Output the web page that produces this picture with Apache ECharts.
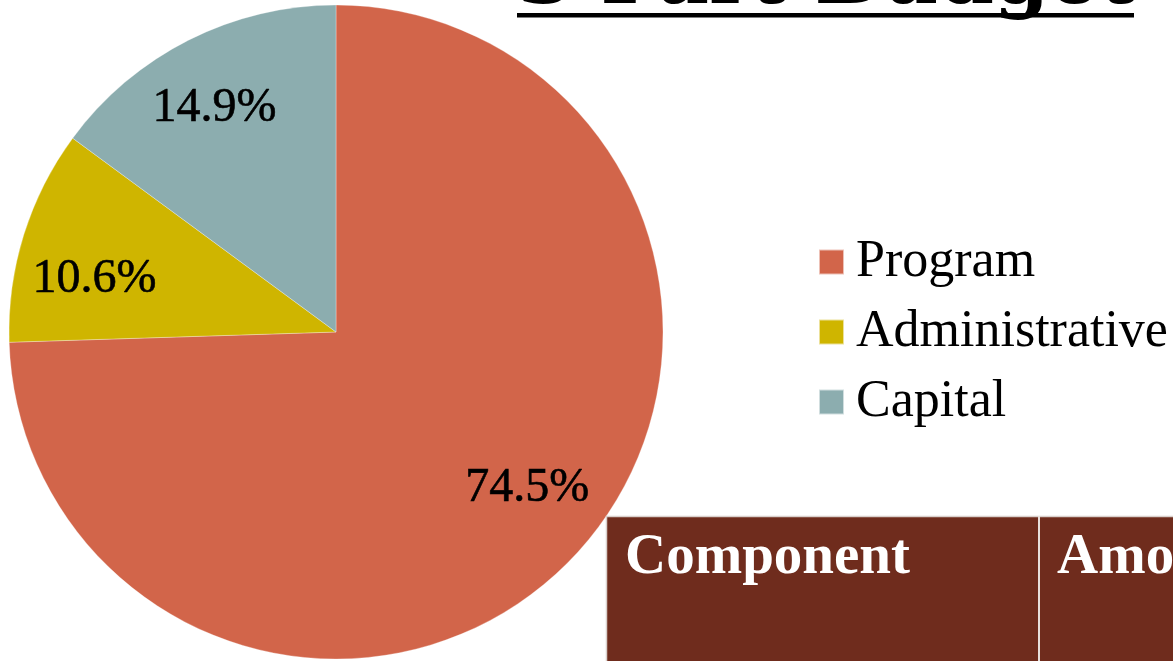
<!DOCTYPE html>
<html>
<head>
<meta charset="utf-8">
<script src="https://cdn.jsdelivr.net/npm/echarts@6/dist/echarts.min.js"></script>
<style>
html,body{margin:0;padding:0;background:#fff;}
#chart{width:1173px;height:661px;}
</style>
</head>
<body>
<div id="chart"></div>
<script>
var categories = ['Program', 'Administrative', 'Capital'];
var shares = [74.5, 10.6, 14.9];
var sliceColors = ['#D2654A', '#CFB500', '#8CADAF'];
var titleText = '3 Part Budget';
var tableHeaders = ['Component', 'Amount'];

var CX = 336, CY = 332, R = 327;
var labelNudge = [[6, -23], [5, 24], [-5, 7]];
var SERIF = '"Liberation Serif", "DejaVu Serif", serif';

var chart = echarts.init(document.getElementById('chart'), null, {renderer: 'canvas'});
var option = {
  animation: false,
  backgroundColor: '#ffffff',
  color: sliceColors,
  legend: {
    orient: 'vertical',
    left: 818,
    top: 236,
    padding: 0,
    itemWidth: 25,
    itemHeight: 25,
    itemGap: 18,
    icon: 'rect',
    selectedMode: false,
    textStyle: {
      fontFamily: SERIF,
      fontSize: 52,
      color: '#000',
      lineHeight: 52,
      padding: [0, 0, 0, 7]
    },
    data: categories
  },
  series: [{
    type: 'pie',
    center: [CX, CY],
    radius: [0, R],
    startAngle: 90,
    clockwise: true,
    avoidLabelOverlap: false,
    silent: true,
    itemStyle: {borderColor: 'rgba(255,255,255,0.6)', borderWidth: 0.5},
    label: {
      show: true,
      position: 'inside',
      formatter: function (p) { return p.value.toFixed(1) + '%'; },
      fontFamily: SERIF,
      fontSize: 48,
      color: '#000',
      textBorderColor: '#000',
      textBorderWidth: 0.6
    },
    labelLine: {show: false},
    labelLayout: function (p) {
      var cx = p.labelRect.x + p.labelRect.width / 2;
      var cy = p.labelRect.y + p.labelRect.height / 2;
      var k = 1.55;
      var n = labelNudge[p.dataIndex];
      return {x: CX + (cx - CX) * k + n[0], y: CY + (cy - CY) * k + n[1]};
    },
    data: categories.map(function (c, i) { return {name: c, value: shares[i]}; })
  }],
  graphic: [
    {
      type: 'text', left: 518, top: -57, z: 10,
      style: {
        text: titleText,
        font: 'bold 79px "DejaVu Serif", serif',
        fill: '#000'
      }
    },
    {
      type: 'rect', z: 10,
      shape: {x: 517, y: 13, width: 617, height: 4.5},
      style: {fill: '#000'}
    },
    {
      type: 'rect', z: 20,
      shape: {x: 606.5, y: 516.5, width: 600, height: 160},
      style: {fill: '#6F2C1D', stroke: '#d9d0cc', lineWidth: 1.5}
    },
    {
      type: 'rect', z: 21,
      shape: {x: 1038, y: 516, width: 2, height: 150},
      style: {fill: '#e8e0dc'}
    },
    {
      type: 'text', x: 625, y: 530, z: 22,
      style: {
        text: tableHeaders[0],
        font: 'bold 57px "Liberation Serif", serif',
        fill: '#fff'
      }
    },
    {
      type: 'text', x: 1057, y: 530, z: 22,
      style: {
        text: tableHeaders[1],
        font: 'bold 57px "Liberation Serif", serif',
        fill: '#fff'
      }
    }
  ]
};
chart.setOption(option);
</script>
</body>
</html>
